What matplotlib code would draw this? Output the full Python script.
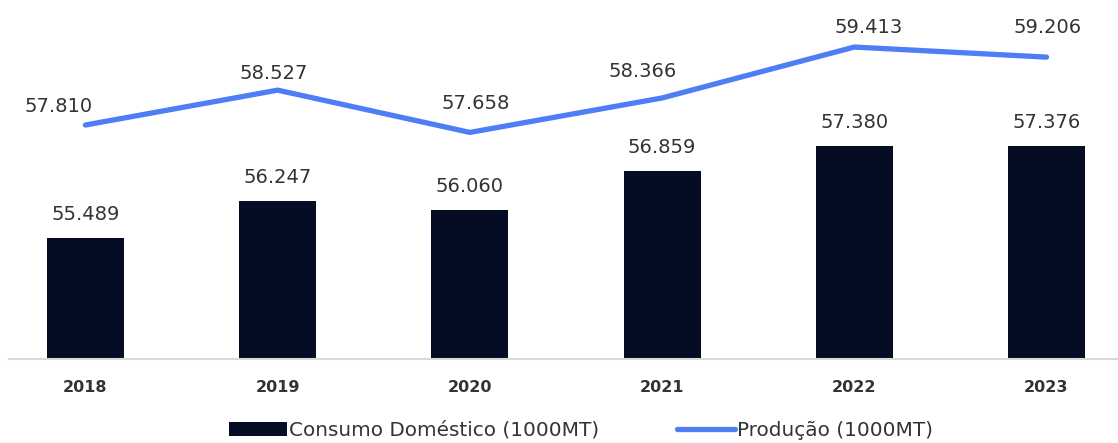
import numpy as np
import matplotlib.pyplot as plt

years = ["2018", "2019", "2020", "2021", "2022", "2023"]
consumo = [55.489, 56.247, 56.060, 56.859, 57.380, 57.376]
producao = [57.810, 58.527, 57.658, 58.366, 59.413, 59.206]

# label offsets (points) for the production series, hand-placed to avoid the line
prod_offsets = [(-19, 13), (-3, 12), (4, 21), (-14, 19), (10, 14), (1, 21)]

BAR_COLOR = "#050d24"
LINE_COLOR = "#4d7ef5"
TEXT_COLOR = "#333333"


def fmt(v):
    return f"{v:.3f}"


def main():
    plt.rcParams["font.family"] = ["DejaVu Sans"]

    fig = plt.figure(figsize=(11.18, 4.43), dpi=100)
    ax = fig.add_axes([0.008, 0.1896, 0.992, 0.8104])

    x = np.arange(len(years))
    bars = ax.bar(x, consumo, width=0.40, color=BAR_COLOR,
                  label="Consumo Doméstico (1000MT)", zorder=2)
    line, = ax.plot(x, producao, color=LINE_COLOR, linewidth=3.8,
                    solid_capstyle="round", solid_joinstyle="round",
                    label="Produção (1000MT)", zorder=3)

    for xi, v in zip(x, consumo):
        ax.annotate(fmt(v), (xi, v), xytext=(0, 17), textcoords="offset points",
                    ha="center", va="center", fontsize=14, color=TEXT_COLOR)

    for xi, v, off in zip(x, producao, prod_offsets):
        ax.annotate(fmt(v), (xi, v), xytext=off, textcoords="offset points",
                    ha="center", va="center", fontsize=14, color=TEXT_COLOR)

    ax.set_ylim(53, 60.38)
    ax.set_xlim(-0.398, 5.372)
    ax.set_yticks([])
    ax.set_xticks(x)
    ax.set_xticklabels(years, fontsize=11.5, fontweight="bold", color=TEXT_COLOR)
    ax.tick_params(axis="x", length=0, pad=15)

    for side in ["top", "right", "left"]:
        ax.spines[side].set_visible(False)
    ax.spines["bottom"].set_color("#d9d9d9")
    ax.spines["bottom"].set_linewidth(1.5)

    fig.legend(handles=[bars, line], loc="center", ncol=2,
               bbox_to_anchor=(581 / 1118, 1 - 430 / 443), frameon=False,
               fontsize=14.4, handlelength=2.9, handletextpad=0.12,
               columnspacing=3.9, labelcolor=TEXT_COLOR)

    fig.savefig("out.png", dpi=100)


if __name__ == "__main__":
    main()
